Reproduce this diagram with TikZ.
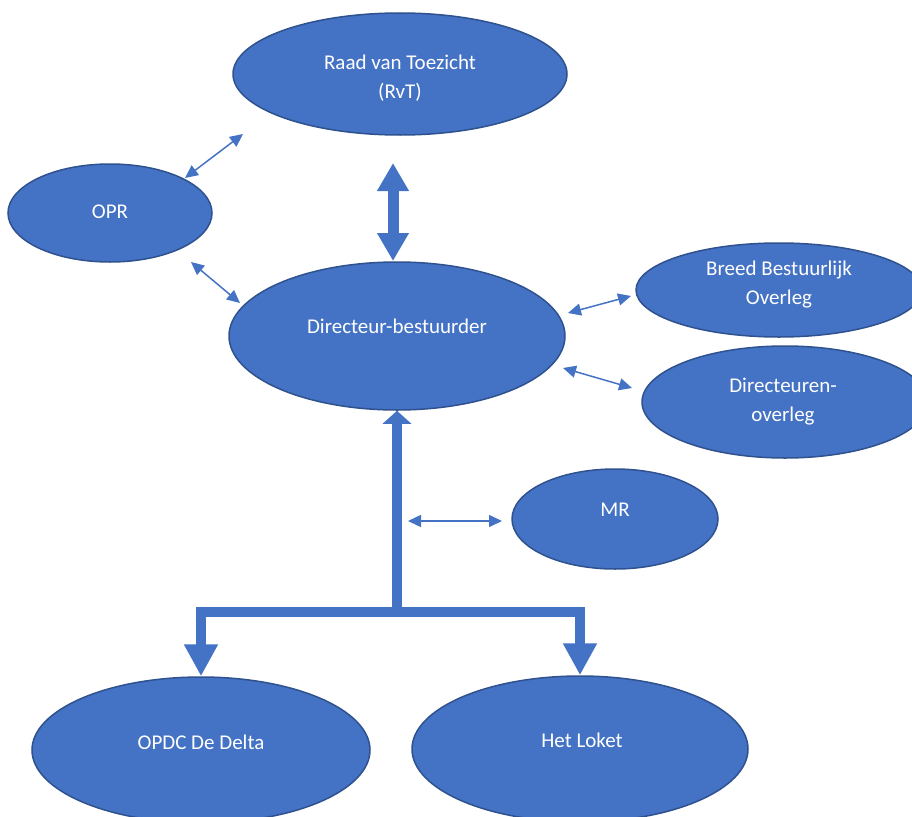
\documentclass[tikz,border=0pt]{standalone}
\usepackage{fontspec}
\setmainfont{Carlito}
\usetikzlibrary{shapes.geometric,arrows.meta}
\definecolor{bfill}{HTML}{4472C4}
\definecolor{bline}{HTML}{2F528F}
\tikzset{
  el/.style={ellipse, draw=bline, fill=bfill, line width=1.5pt, inner sep=0pt},
  txt/.style={text=white, align=center, font=\fontsize{21}{29}\selectfont, inner sep=0pt},
  thin/.style={draw=bfill, line width=1.5pt, {Triangle[length=13pt,width=12pt]}-{Triangle[length=13pt,width=12pt]}},
  thickln/.style={draw=bfill, line width=10pt}
}
\begin{document}
\begin{tikzpicture}[x=1pt,y=-1pt]
\useasboundingbox (0,0) rectangle (912,816);
% ellipses
\node[el, minimum width=334pt, minimum height=122pt] (rvt) at (400,74) {};
\node[el, minimum width=204pt, minimum height=98pt] (opr) at (110,213) {};
\node[el, minimum width=336pt, minimum height=148pt] (dir) at (397,336) {};
\node[el, minimum width=286pt, minimum height=94pt] (bbo) at (779,290) {};
\node[el, minimum width=286pt, minimum height=112pt] (dov) at (785,402) {};
\node[el, minimum width=206pt, minimum height=100pt] (mr) at (615,519) {};
\node[el, minimum width=338pt, minimum height=146pt] (opdc) at (201,750) {};
\node[el, minimum width=336pt, minimum height=146pt] (loket) at (580,749) {};
% texts
\node[txt] (trvt) at (400,78) {Raad van Toezicht\\(RvT)};
\node[txt] (topr) at (110,212) {OPR};
\node[txt] (tdir) at (397,326) {Directeur-bestuurder};
\node[txt] (tbbo) at (779,285) {Breed Bestuurlijk\\Overleg};
\node[txt] (tdov) at (783,402) {Directeuren-\\overleg};
\node[txt] (tmr) at (615,510) {MR};
\node[txt] (topdc) at (201,742) {OPDC De Delta};
\node[txt] (tloket) at (582,740) {Het Loket};
% thin arrow ends
\coordinate (a1) at (185,178); \coordinate (a2) at (243,134);
\coordinate (b1) at (191,262); \coordinate (b2) at (240,303);
\coordinate (c1) at (568,313); \coordinate (c2) at (631,296);
\coordinate (d1) at (563,368); \coordinate (d2) at (632,388);
\coordinate (e1) at (408,521); \coordinate (e2) at (502,521);
\draw[thin] (a1) -- (a2);
\draw[thin] (b1) -- (b2);
\draw[thin] (c1) -- (c2);
\draw[thin] (d1) -- (d2);
\draw[thin] (e1) -- (e2);
% thick RvT - Dir
\coordinate (f1) at (393,163); \coordinate (f2) at (393,261);
\draw[draw=bfill, line width=11pt, {Triangle[length=28pt,width=30pt]}-{Triangle[length=28pt,width=30pt]}] (f1) -- (f2);
% tree
\coordinate (j) at (397,612);
\draw[thickln, -{Triangle[length=13pt,width=28pt]}] (j) -- (dir.south);
\draw[thickln, line join=miter, -{Triangle[length=32pt,width=32pt]}] (j) -| (opdc.north);
\draw[thickln, line join=miter, -{Triangle[length=32pt,width=32pt]}] (j) -| (loket.north);
\end{tikzpicture}
\end{document}
